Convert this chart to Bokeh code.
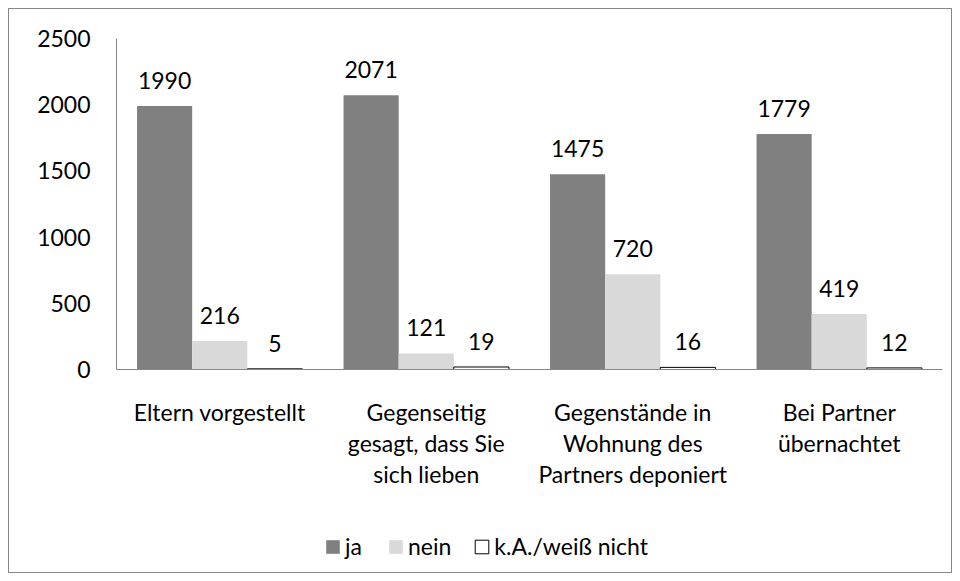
from bokeh.plotting import figure
from bokeh.models import (ColumnDataSource, FactorRange, CategoricalAxis, LabelSet,
                          Legend, LegendItem, FixedTicker, Column, Range1d)
from bokeh.core.properties import value
from bokeh.transform import dodge
from bokeh.embed import file_html
from bokeh.resources import INLINE

# category labels, one list per printed line
line1 = ["Eltern vorgestellt", "Gegenseitig", "Gegenstände in", "Bei Partner"]
line2 = [" ", "gesagt, dass Sie", "Wohnung des", "übernachtet"]
line3 = [" ", "sich lieben", "Partners deponiert", "  "]
series_names = ["ja", "nein", "k.A./weiß nicht"]
ja = [1990, 2071, 1475, 1779]
nein = [216, 121, 720, 419]
ka = [5, 19, 16, 12]
y_ticks = [0, 500, 1000, 1500, 2000, 2500]

FONT = "Lato"
FS = "23px"

fields = ["ja", "nein", "ka"]
fills = ["#808080", "#d9d9d9", "#ffffff"]
lines = [None, None, "#000000"]

src = ColumnDataSource(dict(cat=line1, ja=ja, nein=nein, ka=ka,
                            ja_t=[str(v) for v in ja], nein_t=[str(v) for v in nein],
                            ka_t=[str(v) for v in ka]))

p = figure(x_range=FactorRange(*line1, range_padding=0), y_range=(0, 2500),
           width=942, height=519, output_backend="svg", toolbar_location=None,
           min_border_left=107, min_border_right=9, min_border_top=29, min_border_bottom=159)
p.extra_x_ranges = {"l2": FactorRange(*line2, range_padding=0),
                    "l3": FactorRange(*line3, range_padding=0)}
p.outline_line_color = None
p.xgrid.grid_line_color = None
p.ygrid.grid_line_color = None

w = 0.267
offs = [-w, 0.0, w]
for off, f, fc, lc in zip(offs, fields, fills, lines):
    p.vbar(x=dodge("cat", off, range=p.x_range), top=f, width=w, source=src,
           fill_color=fc, line_color=lc, line_width=1)
    lbl = LabelSet(x=dodge("cat", off, range=p.x_range), y=f, text=f + "_t", source=src,
                   text_align="center", text_baseline="bottom", y_offset=17,
                   text_font=value(FONT), text_font_size=value(FS), text_color="#000000")
    p.add_layout(lbl)

p.yaxis.ticker = FixedTicker(ticks=y_ticks)
p.yaxis.major_tick_line_color = None
p.yaxis.minor_tick_line_color = None
p.yaxis.axis_line_color = "#868686"
p.yaxis.major_label_text_font = FONT
p.yaxis.major_label_text_font_size = FS
p.yaxis.major_label_text_color = "#000000"
p.yaxis.major_label_standoff = 20


def style_xaxis(ax, standoff):
    ax.major_tick_line_color = None
    ax.minor_tick_line_color = None
    ax.major_label_text_font = FONT
    ax.major_label_text_font_size = FS
    ax.major_label_text_color = "#000000"
    ax.major_label_standoff = standoff


xa = p.xaxis[0]
xa.axis_line_color = "#868686"
style_xaxis(xa, 22)

for rn in ("l2", "l3"):
    ax = CategoricalAxis(x_range_name=rn, axis_line_color=None)
    style_xaxis(ax, -6)
    p.add_layout(ax, "below")

# legend in its own strip under the chart (its sample bars lie outside the strip's view)
lf = figure(width=942, height=44, x_range=Range1d(0, 1), y_range=Range1d(0, 1),
            output_backend="svg", toolbar_location=None,
            min_border=0, min_border_left=0, min_border_right=0,
            min_border_top=0, min_border_bottom=0)
lf.axis.visible = False
lf.xgrid.visible = False
lf.ygrid.visible = False
lf.outline_line_color = None
leg_renderers = []
for fc, lc in zip(fills, lines):
    leg_renderers.append(lf.vbar(x=[-10], top=[-9], bottom=[-10], width=0.1,
                                 fill_color=fc, line_color=lc, line_width=1))
legend = Legend(items=[LegendItem(label=n, renderers=[r]) for n, r in zip(series_names, leg_renderers)],
                orientation="horizontal", location=(208, 12), border_line_color=None,
                background_fill_alpha=0,
                label_text_font=FONT, label_text_font_size=FS, label_text_color="#000000",
                glyph_width=17, glyph_height=17, spacing=22, label_standoff=4,
                margin=0, padding=4)
lf.add_layout(legend, "center")

page = Column(children=[p, lf], spacing=0,
              styles={"border": "1px solid #868686", "margin-left": "8px", "margin-top": "8px"})
open("out.html", "w").write(file_html(page, INLINE))
